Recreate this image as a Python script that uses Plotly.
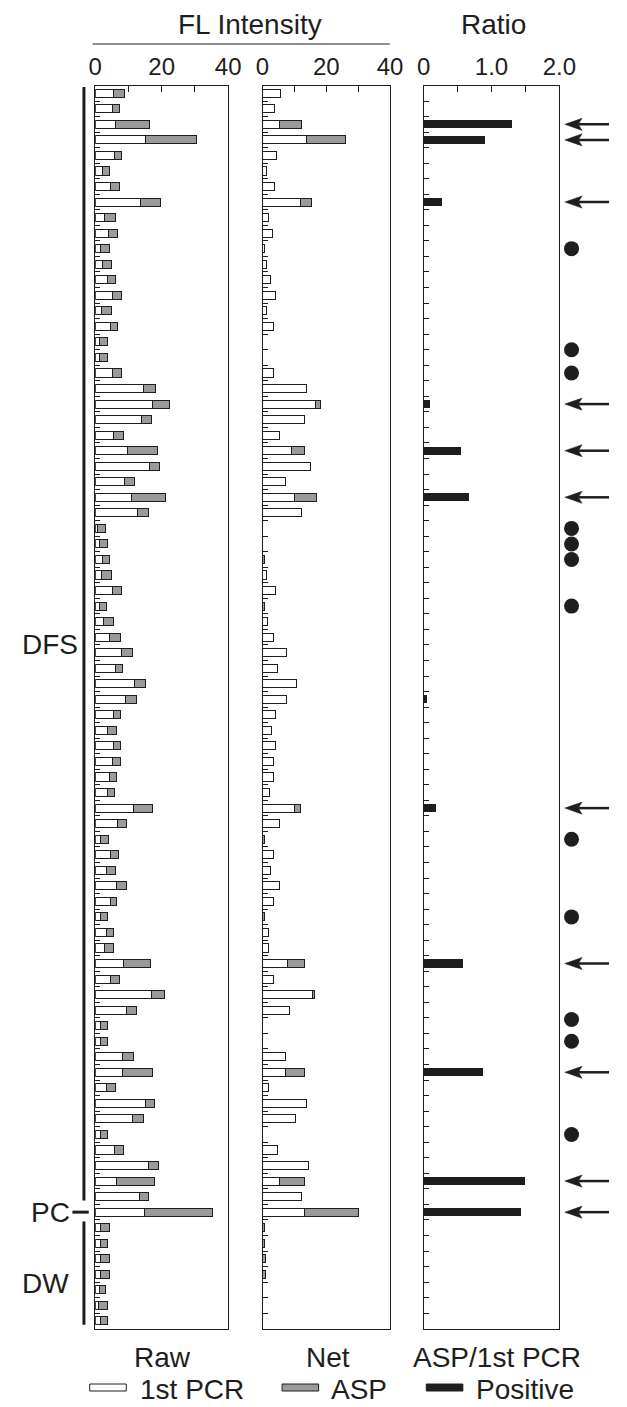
import plotly.graph_objects as go

W, H = 627, 1407

# ---------------- data (row order top -> bottom) ----------------
raw_1st = [5.6, 5.3, 6.2, 15.1, 5.8, 2.2, 4.6, 13.5, 2.7, 4.0,
           1.6, 2.2, 3.8, 5.2, 2.0, 4.5, 1.3, 1.4, 5.1, 14.6,
           17.3, 13.8, 5.6, 9.8, 16.2, 8.7, 11.0, 12.6, 0.7, 1.4,
           2.1, 2.0, 5.1, 1.4, 2.6, 4.4, 8.0, 6.1, 11.9, 9.0,
           5.5, 3.8, 5.5, 5.1, 4.3, 3.8, 11.4, 6.8, 1.5, 4.5,
           3.5, 6.3, 4.5, 1.7, 3.5, 2.9, 8.6, 4.7, 17.0, 9.4,
           1.5, 1.5, 8.2, 8.2, 3.4, 15.1, 11.2, 1.5, 5.7, 15.9,
           6.3, 13.4, 14.8,
           1.6, 1.6, 1.6, 1.6, 1.4, 1.1, 1.6]
raw_asp = [3.3, 1.9, 10.0, 15.4, 2.0, 2.1, 2.6, 6.0, 3.4, 2.6,
           2.7, 2.8, 2.3, 2.6, 2.8, 2.1, 2.4, 2.3, 2.7, 3.6,
           5.1, 3.2, 2.8, 9.0, 3.2, 3.1, 10.2, 3.3, 2.3, 2.2,
           2.1, 2.8, 2.7, 2.1, 2.8, 3.3, 3.2, 2.2, 3.3, 3.3,
           2.1, 2.5, 2.2, 2.6, 2.1, 2.1, 5.7, 2.6, 2.6, 2.6,
           2.6, 3.1, 2.0, 2.0, 2.1, 2.7, 8.0, 2.5, 3.8, 3.1,
           2.2, 2.2, 3.3, 9.1, 2.6, 2.7, 3.2, 2.2, 2.8, 3.1,
           11.6, 2.7, 20.5,
           2.7, 2.1, 2.7, 2.7, 1.7, 2.6, 2.1]
net_1st = [5.6, 3.7, 5.4, 13.7, 4.3, 1.3, 3.7, 12.0, 1.9, 3.2,
           0.6, 1.2, 2.5, 4.1, 1.2, 3.5, 0, 0, 3.5, 13.7,
           16.5, 13.2, 5.4, 9.0, 15.2, 7.1, 10.0, 12.1, 0, 0,
           0, 1.1, 4.1, 0, 1.7, 3.5, 7.6, 4.7, 10.6, 7.6,
           4.1, 2.9, 4.1, 3.5, 3.5, 2.3, 9.9, 5.3, 0, 3.5,
           2.4, 5.4, 3.5, 0, 1.8, 1.8, 7.7, 3.5, 15.7, 8.4,
           0, 0, 7.1, 7.1, 1.8, 13.7, 10.2, 0, 4.8, 14.4,
           5.3, 12.2, 13.2,
           0, 0, 0, 0, 0, 0, 0]
net_asp = [0, 0, 6.9, 12.4, 0, 0, 0, 3.4, 0, 0,
           0, 0, 0, 0, 0, 0, 0, 0, 0, 0,
           1.6, 0, 0, 4.3, 0, 0, 6.9, 0, 0, 0,
           0.5, 0, 0, 0.5, 0, 0, 0, 0, 0, 0,
           0, 0, 0, 0, 0, 0, 2.1, 0, 0.5, 0,
           0, 0, 0, 0.5, 0, 0, 5.5, 0, 0.5, 0,
           0, 0, 0, 6.1, 0, 0, 0, 0, 0, 0,
           7.9, 0, 17.0,
           0.6, 0.6, 0.8, 0.8, 0, 0, 0]
ratio = [0, 0, 1.30, 0.90, 0, 0, 0, 0.27, 0, 0,
         0, 0, 0, 0, 0, 0, 0, 0, 0, 0,
         0.10, 0, 0, 0.55, 0, 0, 0.67, 0, 0, 0,
         0, 0, 0, 0, 0, 0, 0, 0, 0, 0.05,
         0, 0, 0, 0, 0, 0, 0.18, 0, 0, 0,
         0, 0, 0, 0, 0, 0, 0.58, 0, 0, 0,
         0, 0, 0, 0.87, 0, 0, 0, 0, 0, 0,
         1.50, 0, 1.44,
         0, 0, 0, 0, 0, 0, 0]
arrow_rows = [3, 4, 8, 21, 24, 27, 47, 57, 64, 71, 73]          # 1-based rows
dot_rows = [11, 17.5, 19, 29, 30, 31, 34, 49, 54, 60.6, 62, 68]  # 1-based rows
groups = [("DFS", 1, 72), ("PC", 73, 73), ("DW", 74, 80)]

fl_ticks = [0, 10, 20, 30, 40]
fl_ticktext = ["0", "", "20", "", "40"]
ratio_ticks = [0, 0.5, 1.0, 1.5, 2.0]
ratio_ticktext = ["0", "", "1.0", "", "2.0"]

# ---------------- styling ----------------
FONT = "Liberation Sans, Arial, Helvetica, sans-serif"
INK = "#1e1e1e"
GRAY = "#9a9a9a"
N = len(raw_1st)
rows = list(range(N))
BW = 0.52


def nz(v):
    return [x if x else None for x in v]


def px(p):
    return p / W


def py(p):
    return 1 - p / H


fig = go.Figure()

bar_common = dict(orientation="h", width=BW, hoverinfo="skip", showlegend=False,
                  marker_line_color=INK, marker_line_width=1)

fig.add_trace(go.Bar(x=raw_1st, y=rows, xaxis="x", yaxis="y", marker_color="white", **bar_common))
fig.add_trace(go.Bar(x=raw_asp, y=rows, xaxis="x", yaxis="y", marker_color=GRAY, **bar_common))
fig.add_trace(go.Bar(x=nz(net_1st), y=rows, xaxis="x2", yaxis="y2", marker_color="white", **bar_common))
fig.add_trace(go.Bar(x=nz(net_asp), y=rows, xaxis="x2", yaxis="y2", marker_color=GRAY, **bar_common))
fig.add_trace(go.Bar(x=nz(ratio), y=rows, xaxis="x3", yaxis="y3", orientation="h", width=BW,
                     marker_color=INK, marker_line_width=0, hoverinfo="skip", showlegend=False))

# dots, on a hidden axis strip right of the ratio frame
fig.add_trace(go.Scatter(x=[0.5] * len(dot_rows), y=[r - 1 for r in dot_rows], xaxis="x4", yaxis="y3",
                         mode="markers", marker=dict(size=15, color=INK, line=dict(width=0)),
                         cliponaxis=False, hoverinfo="skip", showlegend=False))

ydom = [py(1328.7), py(85.5)]
xdoms = [[px(91.7), px(230)], [px(265.7), px(398.3)], [px(433.3), px(574.3)]]
bounds = [k + 0.5 for k in range(N - 1)]

layout = dict(width=W, height=H, margin=dict(l=0, r=0, t=0, b=0),
              paper_bgcolor="white", plot_bgcolor="white", barmode="stack",
              font=dict(family=FONT, color=INK), showlegend=False)

for i, (dom, rng, tv, tt) in enumerate([(xdoms[0], [0, 40], fl_ticks, fl_ticktext),
                                         (xdoms[1], [0, 40], fl_ticks, fl_ticktext),
                                         (xdoms[2], [0, 2], ratio_ticks, ratio_ticktext)]):
    sfx = "" if i == 0 else str(i + 1)
    layout["xaxis" + sfx] = dict(domain=dom, range=rng, side="top", anchor="y" + sfx,
                                 tickvals=tv, ticktext=tt, ticks="inside", ticklen=6,
                                 tickcolor=INK, tickfont=dict(size=24, family=FONT, color=INK),
                                 showline=True, mirror=True, linecolor=INK, linewidth=1,
                                 showgrid=False, zeroline=False, fixedrange=True)
    layout["yaxis" + sfx] = dict(domain=ydom, range=[N - 0.5, -0.5], anchor="x" + sfx,
                                 tickvals=bounds, ticks="inside", ticklen=5, tickcolor=INK,
                                 tickwidth=1, showticklabels=False, showline=True, mirror=True,
                                 linecolor=INK, linewidth=1, showgrid=False, zeroline=False,
                                 fixedrange=True)

layout["xaxis4"] = dict(domain=[px(577), px(597)], range=[0, 1], anchor="y3", visible=False,
                        fixedrange=True)

shapes = []
annotations = []

# top titles
annotations.append(dict(text="FL Intensity", x=px(253), y=py(25), xref="paper", yref="paper",
                        showarrow=False, xanchor="center", yanchor="middle", font=dict(size=28)))
annotations.append(dict(text="Ratio", x=px(506), y=py(25), xref="paper", yref="paper",
                        showarrow=False, xanchor="center", yanchor="middle", font=dict(size=28)))
shapes.append(dict(type="line", xref="paper", yref="paper", x0=px(89), x1=px(398), y0=py(44), y1=py(44),
                   line=dict(color=INK, width=1)))

# bottom titles
for t, xc in [("Raw", 162), ("Net", 334), ("ASP/1st PCR", 509)]:
    annotations.append(dict(text=t, x=px(xc), y=py(1357), xref="paper", yref="paper", showarrow=False,
                            xanchor="center", yanchor="middle", font=dict(size=28)))

# legend
for (x0, x1, fill, lab, tx) in [(86, 124, "white", "1st PCR", 136),
                                (286, 324, GRAY, "ASP", 335),
                                (436, 474, INK, "Positive", 486)]:
    shapes.append(dict(type="rect", xref="paper", yref="paper", x0=px(x0), x1=px(x1),
                       y0=py(1391), y1=py(1384), fillcolor=fill, line=dict(color=INK, width=1)))
    annotations.append(dict(text=lab, x=px(tx), y=py(1389), xref="paper", yref="paper", showarrow=False,
                            xanchor="left", yanchor="middle", font=dict(size=28)))

# group brackets on the left
for name, a, b in groups:
    y0, y1 = a - 1, b - 1
    if a == b:
        shapes.append(dict(type="line", xref="paper", yref="y", x0=px(68), x1=px(85), y0=y0, y1=y0,
                           line=dict(color=INK, width=3)))
        ymid = y0
        xlab = 45
    else:
        shapes.append(dict(type="line", xref="paper", yref="y", x0=px(80), x1=px(80),
                           y0=y0 - 0.4, y1=y1 + 0.25, line=dict(color=INK, width=3)))
        ymid = (y0 + y1) / 2 + (0 if name == "DFS" else 0.6)
        xlab = 45 if name == "DFS" else 40
    annotations.append(dict(text=name, x=px(xlab), y=ymid, xref="paper", yref="y", showarrow=False,
                            xanchor="center", yanchor="middle", font=dict(size=28)))

# arrows pointing at positive samples
hh = 0.39
for r in arrow_rows:
    y = r - 1
    shapes.append(dict(type="path", xref="paper", yref="y3",
                       path=f"M {px(580)},{y} L {px(598)},{y - hh} L {px(594)},{y} L {px(598)},{y + hh} Z",
                       fillcolor=INK, line=dict(color=INK, width=0.5)))
    shapes.append(dict(type="line", xref="paper", yref="y3", x0=px(594), x1=px(626), y0=y, y1=y,
                       line=dict(color=INK, width=2.5)))

layout["shapes"] = shapes
layout["annotations"] = annotations
fig.update_layout(**layout)

fig.write_html("out.html", config={"displayModeBar": False, "staticPlot": True},
               post_script="document.body.style.margin='0px';")
